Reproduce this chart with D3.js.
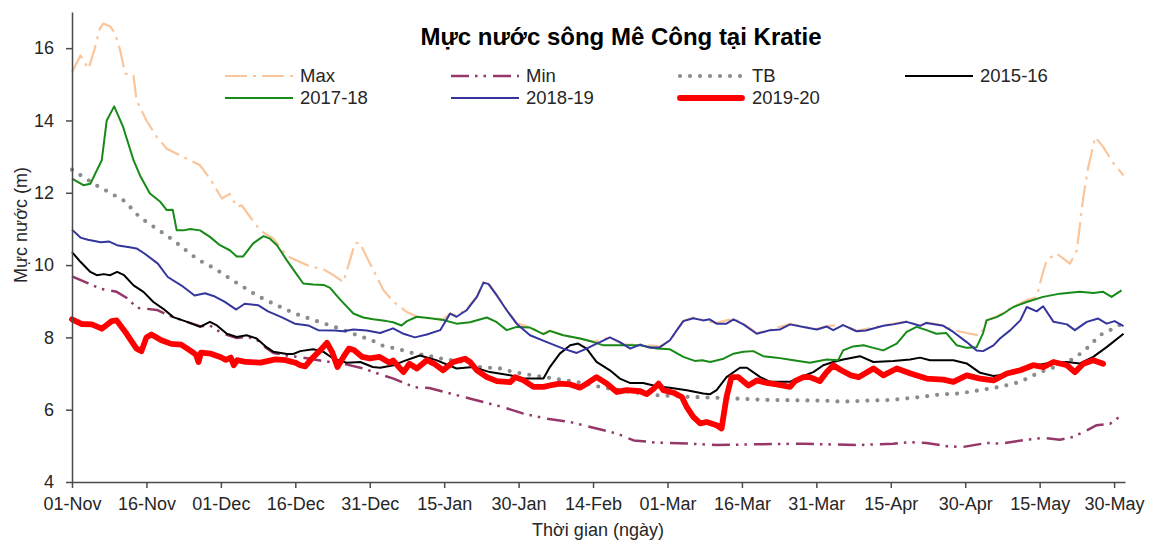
<!DOCTYPE html>
<html><head><meta charset="utf-8">
<script src="https://cdn.jsdelivr.net/npm/d3@7"></script>
<style>
body{margin:0;background:#fff}
svg{display:block}
text{font-family:"Liberation Sans",Arial,sans-serif}
</style>
</head><body>
<svg id="chart" width="1149" height="542"></svg>
<script>
// ---------------- DATA ----------------
const tickLabels = ["01-Nov","16-Nov","01-Dec","16-Dec","31-Dec","15-Jan","30-Jan","14-Feb","01-Mar","16-Mar","31-Mar","15-Apr","30-Apr","15-May","30-May"];
const tickDays = [0,15,30,45,60,75,90,105,120,135,150,165,180,195,210];
const yTicks = [4,6,8,10,12,14,16];
const seriesNames = ["Max","Min","TB","2015-16","2017-18","2018-19","2019-20"];

// [day since 01-Nov, water level (m)]
const maxLevel = [[0,15.34],[1.7,15.8],[3.3,15.43],[4.6,15.99],[5.6,16.54],[6.3,16.68],[7.7,16.6],[8.7,16.4],[9.7,15.94],[10.7,15.3],[12.4,15.24],[13,14.56],[15,14.0],[17.1,13.54],[19.1,13.22],[21.1,13.08],[23.2,12.94],[25.8,12.76],[27.8,12.39],[30.2,11.84],[31.8,11.97],[33.2,11.61],[34.2,11.65],[35.9,11.33],[37.9,10.96],[40.6,10.73],[43.3,10.25],[47.3,10.0],[50.7,9.88],[52.7,9.72],[54.7,9.53],[56,10.13],[57,10.6],[58,10.62],[59.4,10.22],[62.8,9.3],[64.8,8.98],[67.5,8.7],[69.5,8.57],[72.2,8.53],[74.8,8.5],[76.2,8.66],[77.5,8.6],[79.5,8.78],[81.6,9.14],[82.9,9.53],[83.9,9.5],[85.6,9.18],[87.6,8.77],[89.6,8.4],[92.3,8.28],[95,8.1],[96.3,8.18],[99,8.06],[102.4,7.97],[105.1,7.88],[108.4,8.0],[111.1,7.8],[114.5,7.8],[118.5,7.75],[120.5,7.92],[121.9,8.2],[123.2,8.46],[125.2,8.55],[127.2,8.48],[129.9,8.4],[133.3,8.52],[135.3,8.38],[138,8.12],[140.7,8.21],[144.7,8.37],[147.4,8.3],[150.1,8.23],[152.1,8.31],[155.4,8.35],[158.1,8.18],[163.5,8.33],[168.2,8.44],[170.9,8.33],[172.2,8.41],[175.6,8.33],[177.6,8.2],[180.3,8.12],[183,8.05],[184.3,8.47],[186.3,8.57],[189.7,8.85],[192.4,9.03],[194.4,9.1],[195.4,9.67],[196.4,10.13],[198.4,10.32],[201.1,10.04],[202.5,10.41],[203.8,11.88],[204.8,12.71],[206.2,13.54],[207.8,13.27],[209.9,12.81],[211.9,12.48]];

const minLevel = [[0,9.69],[2.7,9.53],[5.6,9.35],[9,9.26],[11.3,9.07],[13,8.82],[17.1,8.76],[19.1,8.63],[23.1,8.43],[25.8,8.31],[27.8,8.33],[29.2,8.2],[31.2,8.07],[33.2,7.98],[35.2,8.02],[37.2,7.94],[39.2,7.7],[40.6,7.57],[43.3,7.5],[46,7.45],[50,7.36],[55,7.26],[58.7,7.14],[62.7,6.95],[64.8,6.86],[69,6.62],[72,6.6],[76.2,6.45],[80.9,6.28],[86.9,6.07],[91,5.89],[95.7,5.75],[100.4,5.66],[105.7,5.48],[109.8,5.34],[113.2,5.15],[117.8,5.09],[124.5,5.06],[130,5.02],[136.6,5.04],[147.4,5.06],[158,5.02],[165.5,5.06],[168.9,5.1],[172.2,5.08],[176.3,4.99],[179.6,4.97],[184.3,5.08],[187,5.06],[192.4,5.17],[195.8,5.22],[199.1,5.17],[201.8,5.25],[204.5,5.43],[206.5,5.57],[209.2,5.61],[211.9,5.89]];

const avgLevel = [[0,12.64],[2,12.46],[5,12.2],[7,12.05],[10.6,11.77],[13.6,11.33],[17,11.01],[20.4,10.69],[22.1,10.5],[25.4,10.15],[28.8,9.9],[32.1,9.6],[34,9.44],[37.5,9.14],[41.2,8.89],[44.9,8.66],[48.9,8.47],[52.9,8.29],[56.7,8.1],[60.7,7.9],[62.4,7.78],[66.2,7.66],[68.5,7.57],[72.2,7.48],[74.5,7.41],[78.9,7.32],[82.2,7.18],[86.3,7.14],[88.9,7.04],[92.9,6.95],[96.3,6.88],[103,6.74],[106.4,6.63],[112,6.5],[118,6.4],[125,6.35],[130,6.33],[135,6.3],[140,6.27],[146,6.26],[152,6.25],[155,6.22],[160,6.25],[165,6.27],[170.9,6.35],[174.9,6.42],[178.9,6.45],[182.9,6.54],[187,6.63],[191.1,6.77],[193,6.9],[195.1,7.04],[199.1,7.23],[201.8,7.41],[204.1,7.64],[205.8,7.87],[207.1,8.06],[209.2,8.2],[210.9,8.33],[212,8.4]];

const level2015 = [[0,10.36],[1.7,10.09],[3.7,9.81],[5,9.72],[6.4,9.75],[7.7,9.72],[9.1,9.81],[10.5,9.72],[12.4,9.44],[14.4,9.26],[16.4,8.98],[18.4,8.79],[20.4,8.56],[23.2,8.43],[25.8,8.29],[27.8,8.43],[29.2,8.33],[31.2,8.1],[33.2,8.01],[35.2,8.06],[37.2,7.97],[39.2,7.73],[40.6,7.6],[43.3,7.54],[44.6,7.54],[46,7.62],[48.6,7.67],[50.7,7.6],[52.7,7.41],[55.4,7.3],[58.1,7.32],[60.6,7.18],[62.1,7.16],[64.8,7.23],[67,7.35],[70.1,7.5],[73.4,7.37],[77.5,7.14],[80.8,7.18],[84.2,7.04],[88.3,6.95],[91,6.86],[95,6.86],[96.3,7.18],[98.3,7.55],[100.4,7.78],[102,7.83],[103.7,7.69],[105.7,7.32],[108.4,7.09],[110.4,6.86],[112.4,6.74],[115.1,6.74],[117.8,6.65],[120.5,6.61],[123.9,6.54],[127.2,6.45],[128.6,6.43],[129.9,6.54],[131.9,6.9],[134.6,7.16],[136,7.16],[138.7,6.9],[140.7,6.77],[144.7,6.77],[146.7,6.9],[149.4,7.04],[151.4,7.23],[153.4,7.32],[155.4,7.39],[158.8,7.48],[161.5,7.32],[165.5,7.35],[168.9,7.39],[170.9,7.44],[172.9,7.37],[177.6,7.37],[180.3,7.28],[183,7.02],[185.7,6.93],[189.7,7.0],[192.4,7.18],[196.4,7.28],[200.5,7.32],[203.1,7.28],[205.8,7.46],[208.5,7.73],[211.9,8.1]];

const level2017 = [[0,12.39],[2.3,12.21],[3.7,12.25],[5,12.62],[6,12.9],[7,14.0],[8.5,14.39],[10.3,13.82],[12.4,12.9],[13.7,12.48],[15.7,11.98],[17.8,11.75],[19.1,11.52],[20.3,11.53],[21.1,10.96],[22.5,10.96],[23.8,11.0],[25.8,10.96],[27.8,10.78],[29.8,10.55],[31.8,10.41],[33.2,10.24],[34.5,10.24],[36.5,10.6],[38.6,10.8],[39.9,10.73],[41.3,10.55],[43.3,10.13],[45,9.8],[46.6,9.49],[48.6,9.46],[50.7,9.45],[52,9.37],[54,9.05],[56.7,8.66],[58.7,8.55],[60.7,8.5],[63.4,8.45],[64.7,8.42],[66.4,8.33],[67.5,8.45],[69.5,8.57],[72.2,8.53],[74.8,8.48],[77.5,8.38],[80.2,8.42],[83.6,8.55],[85.6,8.42],[87.6,8.2],[89.6,8.29],[92.3,8.27],[95,8.09],[96.3,8.18],[99,8.06],[102.4,7.97],[105.1,7.87],[107.1,7.78],[111.1,7.78],[114.5,7.78],[117.8,7.69],[120.5,7.67],[123.2,7.46],[125.5,7.35],[127,7.37],[128.6,7.32],[131.3,7.41],[133.3,7.55],[135.3,7.6],[137.3,7.62],[139.3,7.48],[142,7.44],[145.4,7.37],[148.7,7.3],[152.1,7.39],[154.4,7.37],[155.4,7.64],[157.4,7.75],[159.5,7.78],[161.5,7.71],[163.5,7.64],[166.2,7.83],[168.2,8.15],[170.2,8.29],[172.2,8.2],[174.2,8.1],[176.2,8.12],[178.3,7.78],[180.3,7.71],[182.3,7.73],[183.6,8.12],[184.3,8.47],[186.3,8.56],[187.7,8.66],[189.7,8.84],[192.4,8.98],[195.7,9.12],[199.1,9.21],[203.1,9.26],[205.8,9.23],[207.8,9.26],[209.5,9.12],[211.5,9.3]];

const level2018 = [[0,10.98],[1.7,10.76],[3.2,10.7],[5.8,10.63],[7.5,10.65],[9.3,10.54],[11.6,10.49],[13,10.46],[14.6,10.32],[17.3,10.04],[19.3,9.67],[22,9.44],[24.7,9.16],[26.8,9.22],[28.8,9.13],[30.8,8.98],[33.1,8.77],[34.8,8.93],[37.5,8.89],[39.5,8.72],[42.2,8.56],[44.9,8.38],[47.6,8.33],[49.6,8.2],[52.9,8.19],[54.7,8.17],[56.7,8.22],[59.4,8.19],[62.1,8.12],[64.7,8.25],[66.8,8.1],[69.1,8.0],[71.5,8.08],[74.2,8.2],[76.2,8.66],[77.5,8.57],[79.5,8.75],[81.6,9.12],[82.9,9.51],[83.9,9.48],[85.6,9.16],[87.6,8.75],[89.6,8.38],[92.3,8.06],[95.7,7.87],[99,7.69],[101.7,7.57],[103.7,7.69],[105.7,7.83],[106.4,7.87],[108.4,8.0],[110.4,7.87],[112.5,7.69],[114.5,7.8],[116.5,7.71],[118.5,7.73],[120.5,7.92],[121.9,8.2],[123.2,8.45],[125.2,8.53],[127.2,8.47],[128.5,8.5],[129.9,8.38],[131.9,8.38],[133.3,8.5],[135.3,8.36],[138,8.1],[140.7,8.2],[142.7,8.22],[144.7,8.36],[147.4,8.29],[150.1,8.22],[152.1,8.3],[153.4,8.2],[155.4,8.34],[158.1,8.17],[160,8.19],[163.5,8.32],[165.5,8.36],[168.2,8.43],[170.9,8.32],[172.2,8.4],[175.6,8.32],[177.6,8.15],[180.3,7.87],[182.3,7.64],[183.6,7.62],[185.7,7.78],[187,7.97],[189.1,8.2],[191.1,8.47],[192.4,8.84],[194.4,8.72],[195.7,8.86],[197.8,8.43],[200.5,8.36],[202.1,8.2],[204.5,8.43],[206.8,8.52],[208.5,8.38],[210.1,8.45],[211.9,8.31]];

const level2019 = [[0,8.5],[2,8.37],[4,8.36],[6,8.24],[8,8.45],[9,8.47],[11,8.1],[13,7.69],[14,7.62],[15,8.0],[16,8.08],[18,7.92],[20,7.82],[22,7.8],[24,7.62],[25,7.52],[25.5,7.32],[26,7.58],[28,7.55],[30,7.45],[31,7.38],[32,7.44],[32.6,7.23],[33.3,7.37],[35,7.32],[38,7.3],[41,7.39],[43,7.37],[45,7.3],[46,7.23],[47,7.2],[48.3,7.41],[50,7.64],[51.4,7.85],[52.4,7.6],[53.5,7.18],[54.7,7.46],[55.8,7.69],[56.8,7.65],[58.5,7.46],[60,7.42],[62,7.46],[64,7.3],[64.7,7.36],[66.8,7.04],[68,7.27],[69.5,7.14],[71.5,7.37],[73,7.27],[74.8,7.09],[76.8,7.32],[79.2,7.41],[80.2,7.32],[81.6,7.09],[83.6,6.9],[85.6,6.79],[88.3,6.76],[89.3,6.9],[91,6.81],[93,6.63],[95,6.63],[96.3,6.67],[98.3,6.72],[100.4,6.7],[102.4,6.61],[103.7,6.72],[105.7,6.9],[107.8,6.72],[109.8,6.49],[111.8,6.54],[114.5,6.51],[115.8,6.43],[117.2,6.58],[118.2,6.72],[119.2,6.54],[121.2,6.47],[122.9,6.35],[123.9,6.07],[125.2,5.8],[126.6,5.62],[127.9,5.66],[129.9,5.57],[130.9,5.48],[131.9,6.35],[132.9,6.9],[134.3,6.9],[136.3,6.67],[138,6.81],[140,6.74],[142,6.7],[144.7,6.63],[145.7,6.79],[147.4,6.9],[148.7,6.9],[150.7,6.79],[152.1,7.04],[153.4,7.23],[155,7.09],[157,6.95],[158.5,6.9],[161.5,7.14],[163.5,6.95],[166.2,7.14],[169,7.0],[172.2,6.86],[175.6,6.83],[177.6,6.77],[180.3,6.95],[183,6.86],[185.7,6.81],[188.4,7.0],[191.1,7.09],[193.7,7.23],[195.8,7.18],[197.8,7.32],[200.5,7.23],[202.1,7.04],[203.8,7.27],[205.8,7.37],[207.8,7.27]];

const seriesData = [maxLevel, minLevel, avgLevel, level2015, level2017, level2018, level2019];

// ---------------- STYLES / LAYOUT ----------------
const styles = [
  {color:"#FAC59A", width:2.2, dash:"22,6,3,6", cap:"butt"},
  {color:"#953768", width:2.5, dash:"18,6,2.5,6,2.5,7", cap:"butt"},
  {color:"#8C8C8C", width:4.2, dash:"0,10", cap:"round"},
  {color:"#000000", width:2, dash:null, cap:"butt"},
  {color:"#178A17", width:2, dash:null, cap:"butt"},
  {color:"#35359E", width:2, dash:null, cap:"butt"},
  {color:"#FF0000", width:5.8, dash:null, cap:"round"}
];

const plot = {left:72, right:1125, top:12, bottom:482};
const svg = d3.select("#chart");

const x = d3.scaleLinear().domain([0, 212.2]).range([plot.left, plot.right]);
const y = d3.scaleLinear().domain([4, 17]).range([plot.bottom, plot.top]);

// lines
const line = d3.line().x(d => x(d[0])).y(d => y(d[1])).curve(d3.curveLinear);
const gLines = svg.append("g");
seriesData.forEach((data, i) => {
  const s = styles[i];
  gLines.append("path")
    .datum(data)
    .attr("d", line)
    .attr("fill", "none")
    .attr("stroke", s.color)
    .attr("stroke-width", s.width)
    .attr("stroke-linecap", s.cap)
    .attr("stroke-linejoin", "round")
    .attr("stroke-dasharray", s.dash);
});

// axes
const axisColor = "#4a4a4a";
const xAxis = d3.axisBottom(x).tickValues(tickDays)
  .tickFormat((d, i) => tickLabels[i]).tickSizeOuter(0).tickSizeInner(6).tickPadding(9);
const gx = svg.append("g").attr("transform", `translate(0,${plot.bottom})`).call(xAxis);
const yAxis = d3.axisLeft(y).tickValues(yTicks).tickFormat(d3.format("d"))
  .tickSizeOuter(0).tickSizeInner(6).tickPadding(12);
const gy = svg.append("g").attr("transform", `translate(${plot.left},0)`).call(yAxis);
[gx, gy].forEach(g => {
  g.select(".domain").attr("stroke", axisColor).attr("stroke-width", 1.5);
  g.selectAll(".tick line").attr("stroke", axisColor).attr("stroke-width", 1.5);
  g.selectAll(".tick text").attr("fill", "#262626")
    .style("font-family", '"Liberation Sans", Arial, sans-serif').style("font-size", "18px");
});

// titles
svg.append("text").attr("x", 621).attr("y", 45).attr("text-anchor", "middle")
  .style("font-size", "24px").style("font-weight", "bold").attr("fill", "#000")
  .text("Mực nước sông Mê Công tại Kratie");
svg.append("text").attr("x", 598).attr("y", 536).attr("text-anchor", "middle")
  .style("font-size", "18px").attr("fill", "#262626").text("Thời gian (ngày)");
svg.append("text").attr("transform", "translate(27,225) rotate(-90)").attr("text-anchor", "middle")
  .style("font-size", "18px").attr("fill", "#262626").text("Mực nước (m)");

// legend
const legCols = [225, 451, 677, 905];
const legRows = [76, 98];
const gLeg = svg.append("g");
seriesNames.forEach((name, i) => {
  const col = i < 4 ? i : i - 4;
  const row = i < 4 ? 0 : 1;
  const lx = legCols[col], ly = legRows[row];
  const s = styles[i];
  const inset = s.cap === "round" ? 3 : 0;
  gLeg.append("line").attr("x1", lx + inset).attr("x2", lx + 68 - inset)
    .attr("y1", ly).attr("y2", ly)
    .attr("stroke", s.color).attr("stroke-width", s.width)
    .attr("stroke-linecap", s.cap).attr("stroke-dasharray", s.dash);
  gLeg.append("text").attr("x", lx + 75).attr("y", ly).attr("dy", "0.35em")
    .style("font-size", "18.5px").attr("fill", "#262626").text(name);
});
</script>
</body></html>
